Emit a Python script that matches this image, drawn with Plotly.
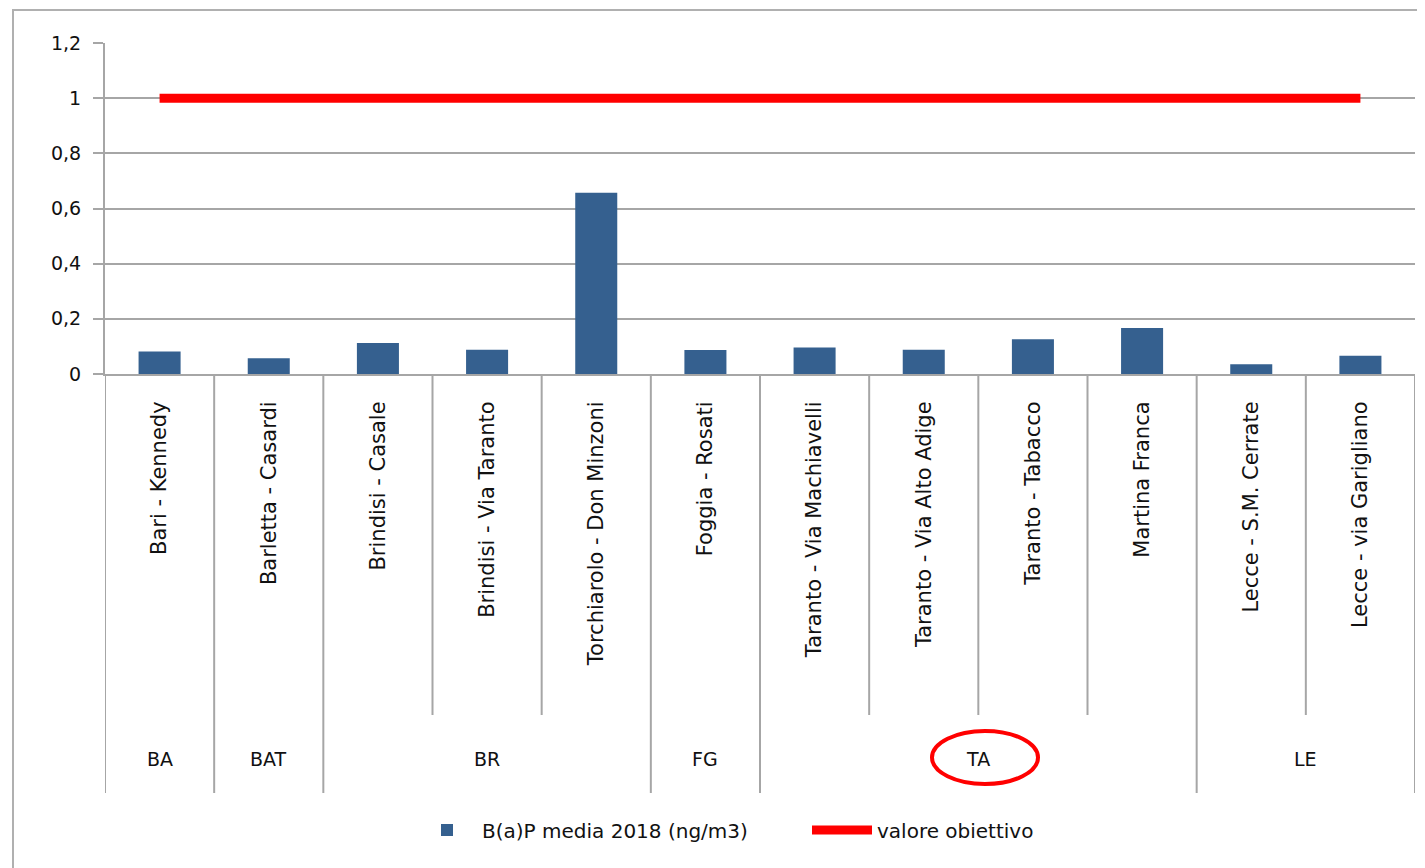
import plotly.graph_objects as go

# ---- data ----
stazioni = [
    "Bari - Kennedy", "Barletta - Casardi", "Brindisi - Casale",
    "Brindisi - Via Taranto", "Torchiarolo - Don Minzoni", "Foggia - Rosati",
    "Taranto - Via Machiavelli", "Taranto - Via Alto Adige", "Taranto - Tabacco",
    "Martina Franca", "Lecce - S.M. Cerrate", "Lecce - via Garigliano",
]
province = ["BA", "BAT", "BR", "BR", "BR", "FG", "TA", "TA", "TA", "TA", "LE", "LE"]
bap_media_2018 = [0.082, 0.057, 0.112, 0.088, 0.657, 0.087,
                  0.096, 0.088, 0.126, 0.167, 0.035, 0.066]
valore_obiettivo = [1, 1, 1, 1, 1, 1, 1, 1, 1, 1, 1, 1]
y_ticks = [0, 0.2, 0.4, 0.6, 0.8, 1.0, 1.2]

# ---- layout constants (page pixels; page has an 8px body margin) ----
W, H = 1425, 868
OFF = 8
PLOT_L, PLOT_R, PLOT_T, PLOT_B = 105, 1415, 43, 374   # target page coords
L = PLOT_L - OFF
R = W - (PLOT_R - OFF)
T = PLOT_T - OFF
B = H - (PLOT_B - OFF)
plot_h = PLOT_B - PLOT_T
plot_w = PLOT_R - PLOT_L
def py(pix):  # page pixel y -> paper y
    return (PLOT_B - pix) / plot_h
def px(pix):  # page pixel x -> paper x
    return (pix - PLOT_L) / plot_w

FONT = "DejaVu Sans"
GRID = "#a6a6a6"

fig = go.Figure()
fig.add_trace(go.Bar(
    x=stazioni, y=bap_media_2018, name="B(a)P media 2018 (ng/m3)",
    marker=dict(color="#35608f", line=dict(width=0)),
))
fig.add_trace(go.Scatter(
    x=stazioni, y=valore_obiettivo, name="valore obiettivo", mode="lines",
    line=dict(color="#ff0000", width=9),
))

shapes = []
n = len(stazioni)
for i in range(n + 1):
    long_line = (i == 0 or i == n or province[i - 1] != province[i])
    shapes.append(dict(
        type="line", xref="x", yref="paper",
        x0=i - 0.5, x1=i - 0.5, y0=0, y1=py(793 if long_line else 715),
        line=dict(color=GRID, width=2), layer="below",
    ))
# outer chart border
shapes.append(dict(type="rect", xref="paper", yref="paper",
                   x0=px(13), x1=px(1440), y0=py(10), y1=py(890),
                   line=dict(color="#b0b0b0", width=2)))
# red highlight ellipse around TA
shapes.append(dict(type="circle", xref="paper", yref="paper",
                   x0=px(932), x1=px(1038), y0=py(731), y1=py(784),
                   line=dict(color="#ff0000", width=4)))

annotations = []
groups = []
for i, p in enumerate(province):
    if groups and groups[-1][0] == p:
        groups[-1][2] = i
    else:
        groups.append([p, i, i])
for p, a, b in groups:
    annotations.append(dict(
        x=(a + b) / 2, xref="x", y=py(759), yref="paper", text=p,
        showarrow=False, font=dict(family=FONT, size=19, color="#111"),
        xanchor="center", yanchor="middle",
    ))

fig.update_layout(
    width=W, height=H,
    margin=dict(l=L, r=R, t=T, b=B, pad=0),
    paper_bgcolor="white", plot_bgcolor="white",
    separators=", ",
    bargap=0.615,
    showlegend=True,
    legend=dict(orientation="h", x=px(412), xanchor="left",
                y=py(830), yanchor="middle",
                font=dict(family=FONT, size=20, color="#111"),
                itemwidth=60, entrywidth=320, entrywidthmode="pixels"),
    font=dict(family=FONT, size=19, color="#111"),
    shapes=shapes, annotations=annotations,
)
fig.update_xaxes(
    type="category", tickangle=-90, ticks="", ticklabelstandoff=17,
    tickfont=dict(family=FONT, size=21, color="#111"),
    showline=True, linecolor=GRID, linewidth=2, showgrid=False,
    range=[-0.5, n - 0.5], fixedrange=True,
)
fig.update_yaxes(
    range=[0, 1.2], tickvals=y_ticks, ticks="outside", ticklen=10,
    tickcolor=GRID, tickwidth=2, ticklabelstandoff=8,
    showgrid=True, gridcolor=GRID, gridwidth=2,
    showline=True, linecolor=GRID, linewidth=2, zeroline=False,
    tickfont=dict(family=FONT, size=19, color="#111"),
)

fig.write_html("out.html")
